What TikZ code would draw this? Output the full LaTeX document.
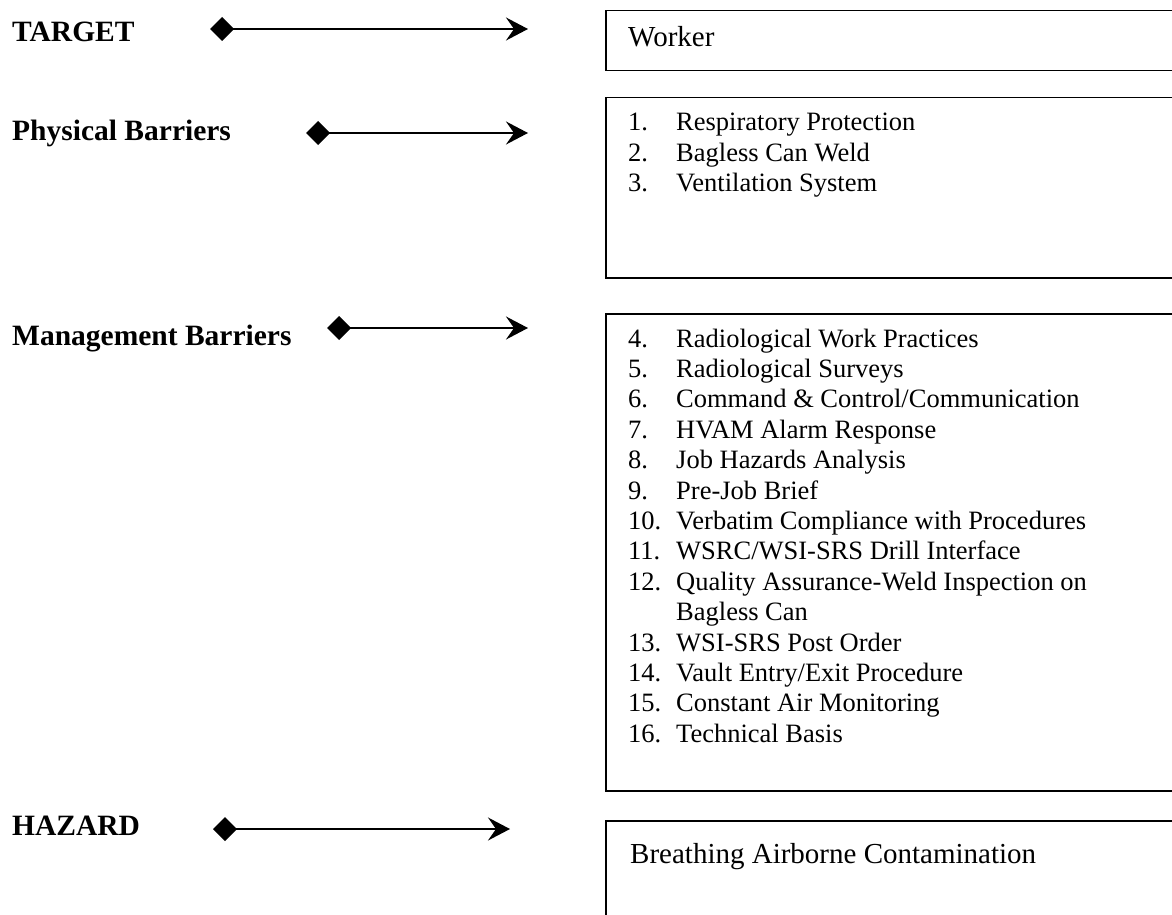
\documentclass[tikz,border=0pt]{standalone}
\usepackage{fontspec}
\setmainfont{Liberation Serif}
\usetikzlibrary{arrows.meta}

\begin{document}
\begin{tikzpicture}[x=1pt, y=-1pt, >={Stealth[length=22pt,width=23pt,inset=8pt]}]
    \tikzstyle{box}=[rectangle,draw,line width=1.5pt,anchor=north west,minimum width=620pt,inner sep=0pt]
    \tikzstyle{lbl}=[anchor=base west,inner sep=0pt,font=\fontsize{29.5}{34}\selectfont\bfseries]
    \tikzstyle{txt}=[anchor=base west,inner sep=0pt,font=\fontsize{29}{34}\selectfont]
    \tikzstyle{lst}=[anchor=base west,inner sep=0pt,font=\fontsize{26.5}{30.4}\selectfont]
    \tikzstyle{link}=[line width=2pt,{Diamond[length=24pt,width=24pt]}->]
    \useasboundingbox (0,0) rectangle (1172,915);
    \clip (0,0) rectangle (1172,915);
    % left column
    \node[lbl] (target) at (12,42) {TARGET};
    \node[lbl] (physical) at (12,140) {Physical Barriers};
    \node[lbl] (management) at (12,345) {Management Barriers};
    \node[lbl] (hazard) at (12,835) {HAZARD};
    % boxes on the right, cut by the page edge
    \node[box,minimum height=60pt] (worker) at (605,10) {};
    \node[box,minimum height=180pt] (physBox) at (605,97) {};
    \node[box,minimum height=477pt] (mgmtBox) at (605,313) {};
    \node[box,minimum height=200pt] (hazBox) at (605,820) {};
    \node[txt] (workerText) at (628,47) {Worker};
    \node[lst] (physList) at (628,131) {\begin{tabular}[t]{@{}p{48pt}@{}l@{}}
      1. & Respiratory Protection\\
      2. & Bagless Can Weld\\
      3. & Ventilation System
    \end{tabular}};
    \node[lst] (mgmtList) at (628,347) {\begin{tabular}[t]{@{}p{48pt}@{}l@{}}
      4. & Radiological Work Practices\\
      5. & Radiological Surveys\\
      6. & Command \& Control/Communication\\
      7. & HVAM Alarm Response\\
      8. & Job Hazards Analysis\\
      9. & Pre-Job Brief\\
      10. & Verbatim Compliance with Procedures\\
      11. & WSRC/WSI-SRS Drill Interface\\
      12. & Quality Assurance-Weld Inspection on\\
          & Bagless Can\\
      13. & WSI-SRS Post Order\\
      14. & Vault Entry/Exit Procedure\\
      15. & Constant Air Monitoring\\
      16. & Technical Basis
    \end{tabular}};
    \node[txt] (hazText) at (630,863) {Breathing Airborne Contamination};
    % arrows
    \coordinate (targetFrom) at (210,29);
    \coordinate (targetTo) at (528,29);
    \coordinate (physFrom) at (306,133);
    \coordinate (physTo) at (528,133);
    \coordinate (mgmtFrom) at (327,328);
    \coordinate (mgmtTo) at (528,328);
    \coordinate (hazFrom) at (213,829);
    \coordinate (hazTo) at (510,829);
    \draw[link] (targetFrom) -- (targetTo);
    \draw[link] (physFrom) -- (physTo);
    \draw[link] (mgmtFrom) -- (mgmtTo);
    \draw[link] (hazFrom) -- (hazTo);
\end{tikzpicture}
\end{document}
